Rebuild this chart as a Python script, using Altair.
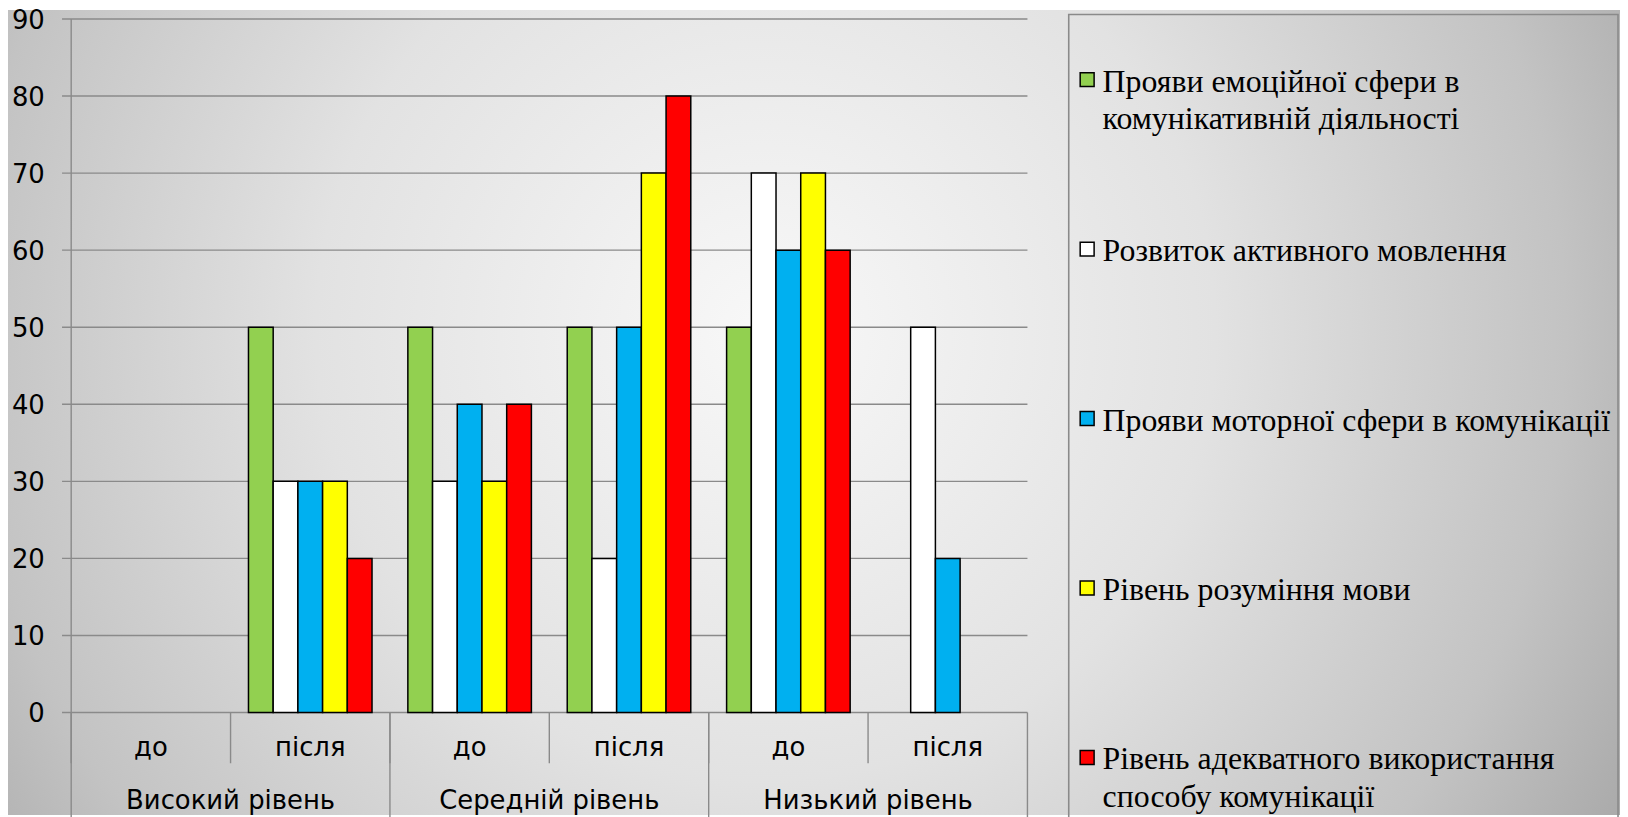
import altair as alt
import pandas as pd

# ---------------- data ----------------
levels = ["Високий рівень", "Середній рівень", "Низький рівень"]
phases = ["до", "після"]
series = [
    "Прояви емоційної сфери в комунікативній діяльності",
    "Розвиток активного мовлення",
    "Прояви моторної сфери в комунікації",
    "Рівень розуміння мови",
    "Рівень адекватного використання способу комунікації",
]
legend_text = [
    "Прояви емоційної сфери в\nкомунікативній  діяльності",
    "Розвиток активного мовлення",
    "Прояви моторної сфери в комунікації",
    "Рівень розуміння мови",
    "Рівень адекватного використання\nспособу комунікації",
]
colors = ["#92D050", "#FFFFFF", "#00B0F0", "#FFFF00", "#FF0000"]

# values per category: Високий до, Високий після, Середній до, Середній після, Низький до, Низький після
emotional = [0, 50, 50, 50, 50, 0]
speech = [0, 30, 30, 20, 70, 50]
motor = [0, 30, 40, 50, 60, 20]
understanding = [0, 30, 30, 70, 70, 0]
adequate = [0, 20, 40, 80, 60, 0]
y_ticks = [0, 10, 20, 30, 40, 50, 60, 70, 80, 90]

# ---------------- tables ----------------
cats = [f"{l}|{p}" for l in levels for p in phases]
all_vals = [emotional, speech, motor, understanding, adequate]
rows = []
for s, vals in zip(series, all_vals):
    for c, v in zip(cats, vals):
        rows.append({"cat": c, "series": s, "value": v})
bars_df = pd.DataFrame(rows)

inner_df = pd.DataFrame({"cat": cats, "phase": [c.split("|")[1] for c in cats]})
outer_df = pd.DataFrame({"cat": [f"{l}|{phases[1]}" for l in levels], "level": levels})
group_start_df = pd.DataFrame({"cat": [f"{l}|{phases[0]}" for l in levels]})
last_df = pd.DataFrame({"cat": [cats[-1]]})
ticks_df = pd.DataFrame({"v": y_ticks})

W, H = 961, 697
PAD_L, PAD_T, PAD_R = 63.5, 9, 595.5
TOTAL_W = 1620
TOTAL_H = 809
PAD_B = TOTAL_H - H - PAD_T

LX = 5  # legend shift
ENTRY_STEP = 170.3
leg_df = pd.DataFrame({"series": series, "label": legend_text, "i": list(range(len(series)))})
leg_df["sy"] = 61 + leg_df["i"] * ENTRY_STEP
leg_df["ty"] = leg_df["sy"] + 12

GRID = "#8a8a8a"
AXFONT = "DejaVu Sans"
SERIF = "Liberation Serif, Times New Roman, serif"

xscale = alt.Scale(domain=cats, paddingInner=0, paddingOuter=0)
yscale = alt.Scale(domain=[0, 90], nice=False, zero=True)
one = alt.Data(values=[{}])

# background radial gradient over the whole canvas
bg = alt.Chart(one).mark_rect(
    fill={
        "gradient": "radial",
        "x1": 0.47, "y1": 0.449, "r1": 0,
        "x2": 0.47, "y2": 0.449, "r2": 0.62,
        "stops": [
            {"offset": 0.0, "color": "#f8f8f8"},
            {"offset": 0.45, "color": "#e2e2e2"},
            {"offset": 0.55, "color": "#d9d9d9"},
            {"offset": 0.8, "color": "#c3c3c3"},
            {"offset": 1.0, "color": "#a8a8a8"},
        ],
    },
    strokeWidth=0,
).encode(
    x=alt.value(-PAD_L), x2=alt.value(TOTAL_W - PAD_L),
    y=alt.value(-PAD_T), y2=alt.value(TOTAL_H - PAD_T),
)

grid = alt.Chart(ticks_df).mark_rule(color=GRID, strokeWidth=1.4).encode(
    y=alt.Y("v:Q", scale=yscale, axis=None),
    x=alt.value(-9.2), x2=alt.value(W),
)

yaxis_line = alt.Chart(one).mark_rule(color=GRID, strokeWidth=1.4).encode(
    x=alt.value(0), y=alt.value(0), y2=alt.value(H)
)

ylabels = alt.Chart(ticks_df).mark_text(
    font=AXFONT, fontSize=26, align="right", baseline="alphabetic", dy=10, color="#000000"
).encode(
    y=alt.Y("v:Q", scale=yscale, axis=None),
    x=alt.value(-26.5),
    text=alt.Text("v:Q"),
)

inner_sep = alt.Chart(inner_df).mark_rule(color=GRID, strokeWidth=1.4).encode(
    x=alt.X("cat:N", scale=xscale, axis=None, bandPosition=0),
    y=alt.value(H), y2=alt.value(H + 51),
)
outer_sep = alt.Chart(group_start_df).mark_rule(color=GRID, strokeWidth=1.4).encode(
    x=alt.X("cat:N", scale=xscale, axis=None, bandPosition=0),
    y=alt.value(H), y2=alt.value(850),
)
right_sep = alt.Chart(last_df).mark_rule(color=GRID, strokeWidth=1.4).encode(
    x=alt.X("cat:N", scale=xscale, axis=None, bandPosition=1),
    y=alt.value(H), y2=alt.value(850),
)

bars = alt.Chart(bars_df).transform_filter("datum.value > 0").mark_bar(
    stroke="#000000", strokeWidth=1.5
).encode(
    x=alt.X("cat:N", scale=xscale, axis=None),
    xOffset=alt.XOffset("series:N", scale=alt.Scale(domain=series, paddingInner=0, paddingOuter=0.725)),
    y=alt.Y("value:Q", scale=yscale, axis=None),
    color=alt.Color("series:N", scale=alt.Scale(domain=series, range=colors), legend=None),
)

inner_labels = alt.Chart(inner_df).mark_text(
    font=AXFONT, fontSize=26, baseline="alphabetic", align="center", color="#000000"
).encode(
    x=alt.X("cat:N", scale=xscale, axis=None),
    y=alt.value(H + 43.5),
    text="phase:N",
)
outer_labels = alt.Chart(outer_df).mark_text(
    font=AXFONT, fontSize=26, baseline="alphabetic", align="center", color="#000000"
).encode(
    x=alt.X("cat:N", scale=xscale, axis=None, bandPosition=0),
    y=alt.value(H + 96.5),
    text="level:N",
)

leg_box = alt.Chart(one).mark_rect(fillOpacity=0, stroke=GRID, strokeWidth=1.6).encode(
    x=alt.value(997.5 + LX), x2=alt.value(1554.5), y=alt.value(-4.5), y2=alt.value(860)
)
leg_sym = alt.Chart(leg_df).mark_square(size=196, stroke="#000000", strokeWidth=1.5, opacity=1).encode(
    x=alt.value(1016 + LX),
    y=alt.Y("sy:Q", scale=None, axis=None),
    fill=alt.Fill("series:N", scale=alt.Scale(domain=series, range=colors), legend=None),
)
leg_txt = alt.Chart(leg_df).mark_text(
    font=SERIF, fontSize=32, align="left", baseline="alphabetic",
    lineBreak="\n", lineHeight=37.5, color="#000000"
).encode(
    x=alt.value(1031.5 + LX),
    y=alt.Y("ty:Q", scale=None, axis=None),
    text="label:N",
)

chart = alt.layer(
    bg, grid, yaxis_line, ylabels, inner_sep, outer_sep, right_sep, bars,
    inner_labels, outer_labels, leg_box, leg_sym, leg_txt
).properties(
    width=W, height=H,
    autosize=alt.AutoSizeParams(type="none"),
    padding={"left": PAD_L, "top": PAD_T, "right": PAD_R, "bottom": PAD_B},
).configure_view(stroke=None)

chart.save("out.html", embed_options={"renderer": "svg", "actions": False})
